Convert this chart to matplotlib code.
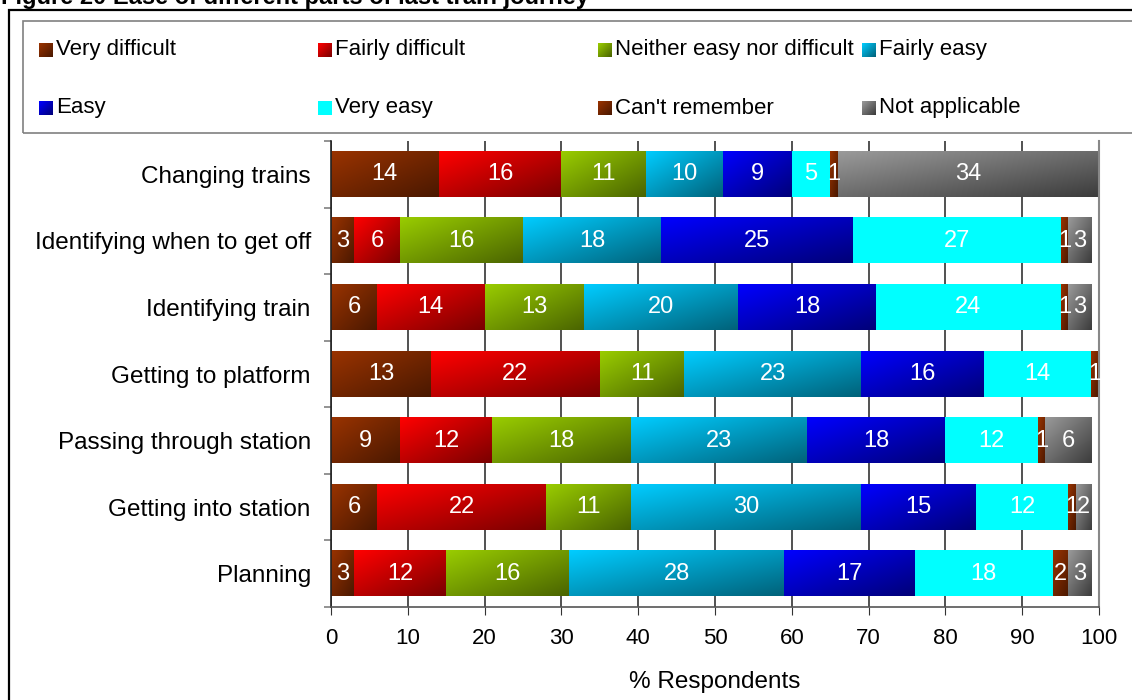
import numpy as np
import matplotlib
matplotlib.use("Agg")
import matplotlib.pyplot as plt
from matplotlib.colors import to_rgb
from matplotlib.patches import Rectangle

plt.rcParams['font.family'] = ['Liberation Sans', 'DejaVu Sans']

# data
categories = ["Changing trains", "Identifying when to get off", "Identifying train",
              "Getting to platform", "Passing through station", "Getting into station",
              "Planning"]
series = ["Very difficult", "Fairly difficult", "Neither easy nor difficult", "Fairly easy",
          "Easy", "Very easy", "Can't remember", "Not applicable"]
very_difficult   = [14, 3, 6, 13, 9, 6, 3]
fairly_difficult = [16, 6, 14, 22, 12, 22, 12]
neither          = [11, 16, 13, 11, 18, 11, 16]
fairly_easy      = [10, 18, 20, 23, 23, 30, 28]
easy             = [9, 25, 18, 16, 18, 15, 17]
very_easy        = [5, 27, 24, 14, 12, 12, 18]
cant_remember    = [1, 1, 1, 1, 1, 1, 2]
not_applicable   = [34, 3, 3, 0, 6, 2, 3]
values = [very_difficult, fairly_difficult, neither, fairly_easy, easy, very_easy,
          cant_remember, not_applicable]
xticks = list(range(0, 101, 10))

# gradient colours (top-left light -> bottom-right dark)
colors = [("#993300", "#4a1800"), ("#ff0000", "#7a0000"), ("#99cc00", "#4a6400"),
          ("#00ccff", "#00627a"), ("#0000ff", "#000078"), ("#00ffff", "#00ffff"),
          ("#993300", "#4a1800"), ("#9a9a9a", "#3c3c3c")]


def grad(c0, c1, n=48):
    c0 = np.array(to_rgb(c0)); c1 = np.array(to_rgb(c1))
    xs = np.linspace(0, 1, n)
    X, Y = np.meshgrid(xs, xs)
    t = ((X + Y) / 2)[..., None]
    return c0 * (1 - t) + c1 * t


W, H = 1132, 700
fig = plt.figure(figsize=(W / 100, H / 100), dpi=100)

# outer frame and title (title partly cut off at top edge, as in the source)
fig.add_artist(Rectangle((9 / W, -0.1), 1.2, 1 - 10 / H + 0.1, transform=fig.transFigure,
                         fill=False, edgecolor='black', linewidth=1.6, clip_on=False))
fig.text(1 / W, 1 - 4 / H, "Figure 20 Ease of different parts of last train journey",
         fontsize=17, fontweight='bold', va='baseline', ha='left')

# legend box
fig.add_artist(Rectangle((23 / W, 1 - 133 / H), 1.2, (133 - 21) / H, transform=fig.transFigure,
                         fill=False, edgecolor='#808080', linewidth=1.2, clip_on=False))
col_x = [39, 318, 598, 862]
row_y = [50, 108]
for k, name in enumerate(series):
    mx = col_x[k % 4]
    my = row_y[k // 4]
    sq = fig.add_axes([mx / W, 1 - (my + 7) / H, 14 / W, 14 / H])
    sq.imshow(grad(*colors[k], n=16), aspect='auto', interpolation='bilinear')
    sq.axis('off')
    fig.text((mx + 17) / W, 1 - my / H, name, fontsize=16, va='center', ha='left')

# main axes
ax = fig.add_axes([331 / W, 1 - 607 / H, (1099 - 331) / W, (607 - 141) / H])
n = len(categories)
ypos = [n - 1 - i for i in range(n)]
bh = 0.68
for i in range(n):
    left = 0
    for k in range(len(series)):
        v = values[k][i]
        if v == 0:
            continue
        y = ypos[i]
        ax.imshow(grad(*colors[k]), extent=(left, left + v, y - bh / 2, y + bh / 2),
                  aspect='auto', interpolation='bilinear', origin='upper', zorder=2)
        ax.text(left + v / 2, y, str(v), color='white', fontsize=17,
                ha='center', va='center', zorder=3)
        left += v

ax.set_xlim(0, 100)
ax.set_ylim(-0.5, n - 0.5)
ax.set_xticks(xticks)
ax.set_xticklabels([str(t) for t in xticks], fontsize=16)
ax.set_yticks(ypos)
ax.set_yticklabels(categories, fontsize=17.5)
ax.set_yticks(np.arange(-0.5, n, 1.0), minor=True)
ax.tick_params(axis='y', which='major', length=0, pad=14.5)
ax.tick_params(axis='y', which='minor', length=5, color='#808080', width=1.2)
ax.tick_params(axis='x', length=6, pad=9, color='#333333')
ax.set_xlabel("% Respondents", fontsize=17.5, labelpad=16)
ax.grid(axis='x', color='#222222', linewidth=1.1, zorder=0)
ax.set_axisbelow(True)
ax.spines['top'].set_visible(False)
ax.spines['left'].set_color('#222222')
ax.spines['left'].set_linewidth(1.2)
ax.spines['bottom'].set_color('#555555')
ax.spines['bottom'].set_linewidth(1.2)
ax.spines['right'].set_color('#888888')
ax.spines['right'].set_linewidth(1.5)

fig.savefig("out.png", dpi=100)
